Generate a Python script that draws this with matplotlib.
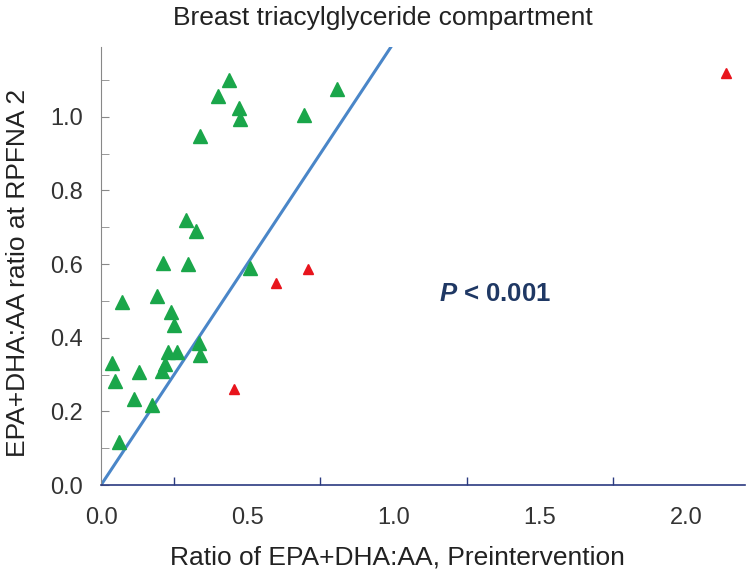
import numpy as np
import matplotlib.pyplot as plt
from matplotlib.ticker import MultipleLocator, FixedLocator

plt.rcParams['font.family'] = ['Liberation Sans', 'DejaVu Sans']
plt.rcParams['mathtext.fontset'] = 'custom'
plt.rcParams['mathtext.it'] = 'Liberation Sans:italic:bold'

# responders (green) and non-responders (red)
green_x = [0.438, 0.400, 0.471, 0.476, 0.807, 0.695, 0.340, 0.289, 0.326, 0.211,
           0.299, 0.509, 0.073, 0.193, 0.238, 0.250, 0.334, 0.340, 0.229, 0.261,
           0.038, 0.219, 0.209, 0.129, 0.049, 0.114, 0.174, 0.063]
green_y = [1.100, 1.056, 1.024, 0.995, 1.076, 1.005, 0.948, 0.719, 0.691, 0.602,
           0.599, 0.589, 0.498, 0.514, 0.469, 0.434, 0.386, 0.352, 0.361, 0.361,
           0.330, 0.328, 0.309, 0.307, 0.283, 0.233, 0.218, 0.116]
red_x = [0.454, 0.597, 0.707, 2.135]
red_y = [0.262, 0.549, 0.587, 1.118]

line_slope = 1.2
x_max = 2.20
y_max = 1.19

fig = plt.figure(figsize=(7.5, 5.77), dpi=100)
ax = fig.add_axes([0.1347, 0.1594, 0.858, 0.7596])

xl = np.array([0, y_max / line_slope])
ax.plot(xl, line_slope * xl, color='#4a86c8', linewidth=2.2, zorder=2)

ax.plot(green_x, green_y, linestyle='none', marker='^', markersize=9.5,
        color='#1aa64a', zorder=3)
ax.plot(red_x, red_y, linestyle='none', marker='^', markersize=7.5,
        color='#e8141c', zorder=3)

ax.set_xlim(0, x_max)
ax.set_ylim(0, y_max)

ax.xaxis.set_major_locator(FixedLocator([0, 0.5, 1.0, 1.5, 2.0]))
ax.xaxis.set_minor_locator(MultipleLocator(0.25))
ax.yaxis.set_major_locator(MultipleLocator(0.2))
ax.yaxis.set_minor_locator(MultipleLocator(0.1))
ax.xaxis.set_major_formatter(plt.FormatStrFormatter('%.1f'))
ax.yaxis.set_major_formatter(plt.FormatStrFormatter('%.1f'))

ax.tick_params(axis='x', which='major', direction='in', length=0, pad=16,
               labelsize=17, labelcolor='#333333')
ax.tick_params(axis='x', which='minor', direction='in', length=6,
               color='#2b3a80', width=1)
ax.tick_params(axis='y', which='major', direction='in', length=6, pad=13,
               labelsize=17, labelcolor='#333333', color='#888888')
ax.tick_params(axis='y', which='minor', direction='in', length=6,
               color='#888888')

for side in ['top', 'right']:
    ax.spines[side].set_visible(False)
ax.spines['left'].set_color('#888888')
ax.spines['bottom'].set_color('#2b3a80')
ax.spines['bottom'].set_linewidth(1.2)

ax.set_xlabel('Ratio of EPA+DHA:AA, Preintervention', fontsize=19,
              color='#222222', va='center')
ax.xaxis.set_label_coords(0.461, -0.166)
ax.set_ylabel('EPA+DHA:AA ratio at RPFNA 2', fontsize=19,
              color='#222222', va='center')
ax.yaxis.set_label_coords(-0.129, 0.484)

fig.text(383 / 750, 1 - 25 / 577, 'Breast triacylglyceride compartment',
         fontsize=19, color='#222222', ha='center', va='baseline')

ax.text(1.155, 0.52, r'$P$ < 0.001', fontsize=18.5, fontweight='bold',
        color='#1f3864', va='center')

plt.savefig('out.png', dpi=100)
